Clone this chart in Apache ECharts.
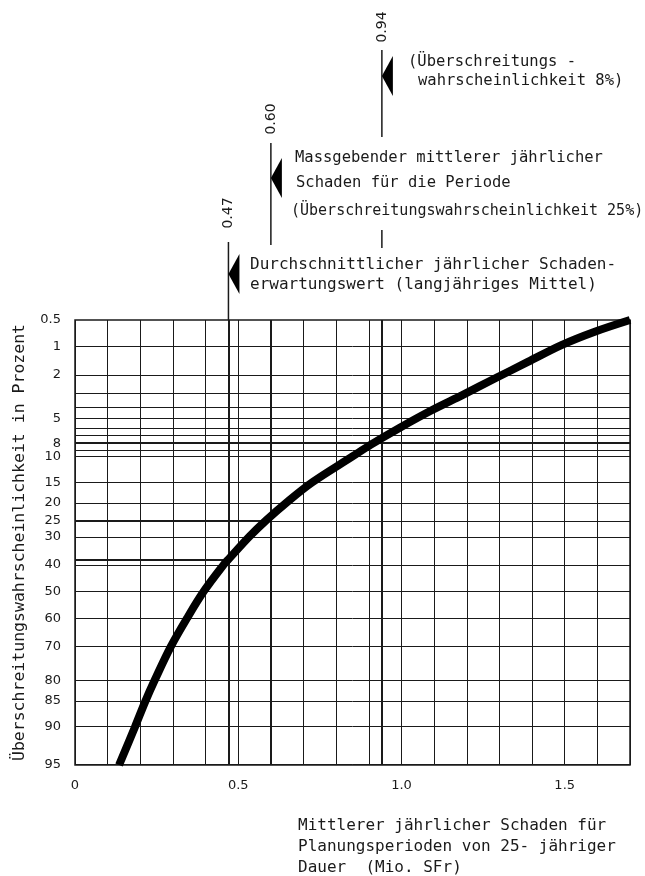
<!DOCTYPE html>
<html><head><meta charset="utf-8">
<script src="https://cdn.jsdelivr.net/npm/echarts@6/dist/echarts.min.js"></script>
<style>html,body{margin:0;padding:0;background:#fff}#c{width:645px;height:876px}</style>
</head><body><div id="c"></div>
<script>
// ---- data ----
const xMin = 0, xMax = 1.7, xStep = 0.1;
const xTickLabels = [0, 0.5, 1.0, 1.5];
const yTickLabels = [0.5, 1, 2, 5, 8, 10, 15, 20, 25, 30, 40, 50, 60, 70, 80, 85, 90, 95];
const yGridProbs = [0.5, 1, 2, 3, 4, 5, 6, 7, 8, 9, 10, 15, 20, 25, 30, 40, 50, 60, 70, 80, 85, 90, 95];
const curveProb =   [95,    90,    85,    80,    70,    60,    50,    40,    38,   30,    25,    20,    15,    10,   8.2,   6,     4.25,  3.1,   2.14,  1.47,  0.97, 0.69, 0.5];
const curveDamage = [0.135, 0.184, 0.216, 0.244, 0.293, 0.343, 0.394, 0.455, 0.47, 0.535, 0.585, 0.647, 0.727, 0.85, 0.905, 0.995, 1.094, 1.188, 1.289, 1.387, 1.49, 1.59, 1.70];
const markerValues = [0.47, 0.60, 0.94];
const markerLabels = ['0.47', '0.60', '0.94'];
const markerProbs = [38, 25, 8];

// ---- normal probability scale (inverse normal CDF, Acklam) ----
function probit(p) {
  const a = [-3.969683028665376e+01, 2.209460984245205e+02, -2.759285104469687e+02, 1.383577518672690e+02, -3.066479806614716e+01, 2.506628277459239e+00];
  const b = [-5.447609879822406e+01, 1.615858368580409e+02, -1.556989798598866e+02, 6.680131188771972e+01, -1.328068155288572e+01];
  const c = [-7.784894002430293e-03, -3.223964580411365e-01, -2.400758277161838e+00, -2.549732539343734e+00, 4.374664141464968e+00, 2.938163982698783e+00];
  const d = [7.784695709041462e-03, 3.224671290700398e-01, 2.445134137142996e+00, 3.754408661907416e+00];
  const pl = 0.02425, ph = 1 - pl;
  let q, r;
  if (p < pl) { q = Math.sqrt(-2 * Math.log(p)); return (((((c[0]*q+c[1])*q+c[2])*q+c[3])*q+c[4])*q+c[5]) / ((((d[0]*q+d[1])*q+d[2])*q+d[3])*q+1); }
  if (p <= ph) { q = p - 0.5; r = q*q; return (((((a[0]*r+a[1])*r+a[2])*r+a[3])*r+a[4])*r+a[5])*q / (((((b[0]*r+b[1])*r+b[2])*r+b[3])*r+b[4])*r+1); }
  q = Math.sqrt(-2 * Math.log(1 - p)); return -(((((c[0]*q+c[1])*q+c[2])*q+c[3])*q+c[4])*q+c[5]) / ((((d[0]*q+d[1])*q+d[2])*q+d[3])*q+1);
}
const Z = p => probit(p / 100);
const zMin = Z(yGridProbs[0]), zMax = Z(yGridProbs[yGridProbs.length - 1]);

const FONT = 'DejaVu Sans';
const MONO = 'DejaVu Sans Mono';
const INK = '#1a1a1a';

const chart = echarts.init(document.getElementById('c'), null, { renderer: 'canvas' });

const gridLineData = yGridProbs.map(p => ({ yAxis: Z(p), lineStyle: { width: p === 8 ? 2 : 1, color: INK, type: 'solid' } }));
const markerLineData = markerValues.map(v => ({ xAxis: v, lineStyle: { width: 2, color: INK, type: 'solid' } }));
markerValues.forEach((v, i) => {
  if (markerProbs[i] !== 8) markerLineData.push([
    { coord: [0, Z(markerProbs[i])], lineStyle: { width: 2, color: INK, type: 'solid' } },
    { coord: [v, Z(markerProbs[i])] }
  ]);
});

chart.setOption({
  animation: false,
  backgroundColor: '#fff',
  grid: { left: 75, right: 15, top: 320, bottom: 111, show: true, borderColor: INK, borderWidth: 1.5, backgroundColor: 'transparent' },
  xAxis: {
    type: 'value', min: xMin, max: xMax, interval: xStep,
    axisLine: { show: false }, axisTick: { show: false },
    splitLine: { show: true, lineStyle: { color: INK, width: 1 } },
    axisLabel: {
      customValues: xTickLabels,
      formatter: v => (Math.abs(v) < 1e-9 ? '0' : v.toFixed(1)),
      fontFamily: FONT, fontSize: 13, color: INK, margin: 14
    }
  },
  yAxis: {
    type: 'value', inverse: true, min: zMin, max: zMax,
    axisLine: { show: false }, axisTick: { show: false }, splitLine: { show: false },
    axisLabel: {
      customValues: yTickLabels.map(Z),
      formatter: v => {
        let best = yTickLabels[0], bd = Infinity;
        yTickLabels.forEach(p => { const d = Math.abs(Z(p) - v); if (d < bd) { bd = d; best = p; } });
        return String(best);
      },
      fontFamily: FONT, fontSize: 13, color: INK, margin: 14
    },
    name: 'Überschreitungswahrscheinlichkeit in Prozent',
    nameLocation: 'middle', nameGap: 47,
    nameTextStyle: { fontFamily: MONO, fontSize: 16.5, color: INK }
  },
  series: [
    {
      type: 'line', data: [], silent: true,
      markLine: { silent: true, symbol: ['none', 'none'], animation: false, label: { show: false },
        lineStyle: { type: 'solid', color: INK, width: 1 }, data: gridLineData }
    },
    {
      type: 'line', data: [], silent: true,
      markLine: { silent: true, symbol: ['none', 'none'], animation: false, label: { show: false },
        lineStyle: { type: 'solid', color: INK, width: 2 }, data: markerLineData }
    },
    {
      type: 'line', smooth: 0.35, showSymbol: false, symbol: 'none',
      lineStyle: { color: '#000', width: 8, cap: 'butt', join: 'round' },
      data: curveDamage.map((x, i) => [x, Z(curveProb[i])]),
      z: 5
    }
  ]
});

// annotations above the plot, anchored to the x scale
const px = v => chart.convertToPixel({ xAxisIndex: 0 }, v);
const p47 = px(markerValues[0]), p60 = px(markerValues[1]), p94 = px(markerValues[2]);
const lineEl = (x, y1, y2) => ({ type: 'line', shape: { x1: x, y1: y1, x2: x, y2: y2 }, style: { stroke: INK, lineWidth: 1.5 } });
const tri = (x, yc, h) => ({ type: 'polygon', shape: { points: [[x, yc], [x + 11, yc - h / 2], [x + 11, yc + h / 2]] }, style: { fill: '#000' } });
const rotText = (x, y, t) => ({ type: 'text', x: x, y: y, rotation: Math.PI / 2, style: { text: t, font: '14px ' + FONT, fill: INK, align: 'center', verticalAlign: 'middle' } });
const txt = (x, y, t, size) => ({ type: 'text', x: x, y: y, style: { text: t, font: (size || 15.5) + 'px ' + MONO, fill: INK, align: 'left', verticalAlign: 'middle' } });

chart.setOption({
  graphic: [
    lineEl(p94, 50, 137), lineEl(p94, 230, 248),
    lineEl(p60, 143, 245),
    lineEl(p47, 242, 320),
    tri(p94, 76, 40), tri(p60, 178, 40), tri(p47, 274, 40),
    rotText(p94, 27, markerLabels[2]), rotText(p60, 119, markerLabels[1]), rotText(p47, 213, markerLabels[0]),
    txt(408, 62, '(Überschreitungs -'),
    txt(418, 81, 'wahrscheinlichkeit 8%)'),
    txt(295, 158, 'Massgebender mittlerer jährlicher'),
    txt(296, 183, 'Schaden für die Periode'),
    txt(291, 211, '(Überschreitungswahrscheinlichkeit 25%)', 15),
    txt(250, 265, 'Durchschnittlicher jährlicher Schaden-', 16),
    txt(250, 285, 'erwartungswert (langjähriges Mittel)', 16),
    txt(298, 826, 'Mittlerer jährlicher Schaden für', 16),
    txt(298, 847, 'Planungsperioden von 25- jähriger', 16),
    txt(298, 868, 'Dauer  (Mio. SFr)', 16)
  ]
});
</script></body></html>
